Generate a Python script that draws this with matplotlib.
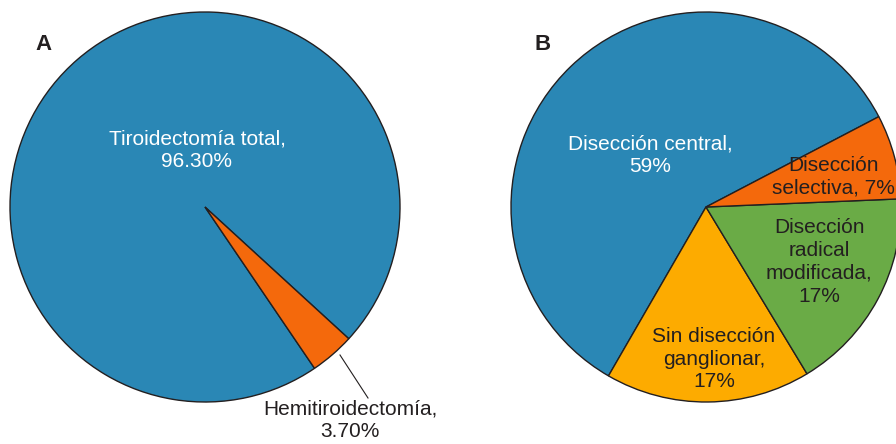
import matplotlib.pyplot as plt

plt.rcParams['font.family'] = ['Liberation Sans', 'DejaVu Sans']

# Panel A data
labels_a = ['Tiroidectomía total,\n96.30%', 'Hemitiroidectomía,\n3.70%']
values_a = [96.30, 3.70]
colors_a = ['#2a87b5', '#f4690c']

# Panel B data (counter-clockwise from the blue/orange boundary)
labels_b = ['Disección central,\n59%', 'Sin disección\nganglionar,\n17%',
            'Disección\nradical\nmodificada,\n17%', 'Disección\nselectiva, 7%']
values_b = [59, 17, 17, 7]
colors_b = ['#2a87b5', '#fdab00', '#6aab46', '#f4690c']

W, H = 896, 444
fig = plt.figure(figsize=(W / 100, H / 100), dpi=100)
ax = fig.add_axes([0, 0, 1, 1])

edge = dict(edgecolor='#231f20', linewidth=1)
ax.pie(values_a, colors=colors_a, center=(205, H - 207), radius=195,
       startangle=-42.5, counterclock=True, wedgeprops=edge, frame=True)
ax.pie(values_b, colors=colors_b, center=(706, H - 207), radius=195,
       startangle=27.6, counterclock=True, wedgeprops=edge, frame=True)
ax.set_xlim(0, W)
ax.set_ylim(0, H)
ax.set_aspect('equal')
ax.axis('off')

fs = 15
txt = '#231f20'
# panel A labels
ax.text(197, H - 150, labels_a[0], color='white', fontsize=fs, ha='center', va='center',
        linespacing=1.25)
ax.plot([340, 368], [H - 355, H - 398], color=txt, lw=0.8)
ax.text(350, H - 420, labels_a[1], color=txt, fontsize=fs, ha='center', va='center',
        linespacing=1.25)
# panel B labels
ax.text(650, H - 155, labels_b[0], color='white', fontsize=fs, ha='center', va='center',
        linespacing=1.25)
ax.text(714, H - 359, labels_b[1], color=txt, fontsize=fs, ha='center', va='center',
        linespacing=1.25)
ax.text(819, H - 262, labels_b[2], color=txt, fontsize=fs, ha='center', va='center',
        linespacing=1.25)
ax.text(833, H - 177, labels_b[3], color=txt, fontsize=fs, ha='center', va='center',
        linespacing=1.25, clip_on=False)

ax.text(43, H - 45, 'A', fontsize=16, fontweight='bold', color=txt, ha='center', va='center')
ax.text(543, H - 45, 'B', fontsize=16, fontweight='bold', color=txt, ha='center', va='center')

fig.savefig('out.png', dpi=100)
